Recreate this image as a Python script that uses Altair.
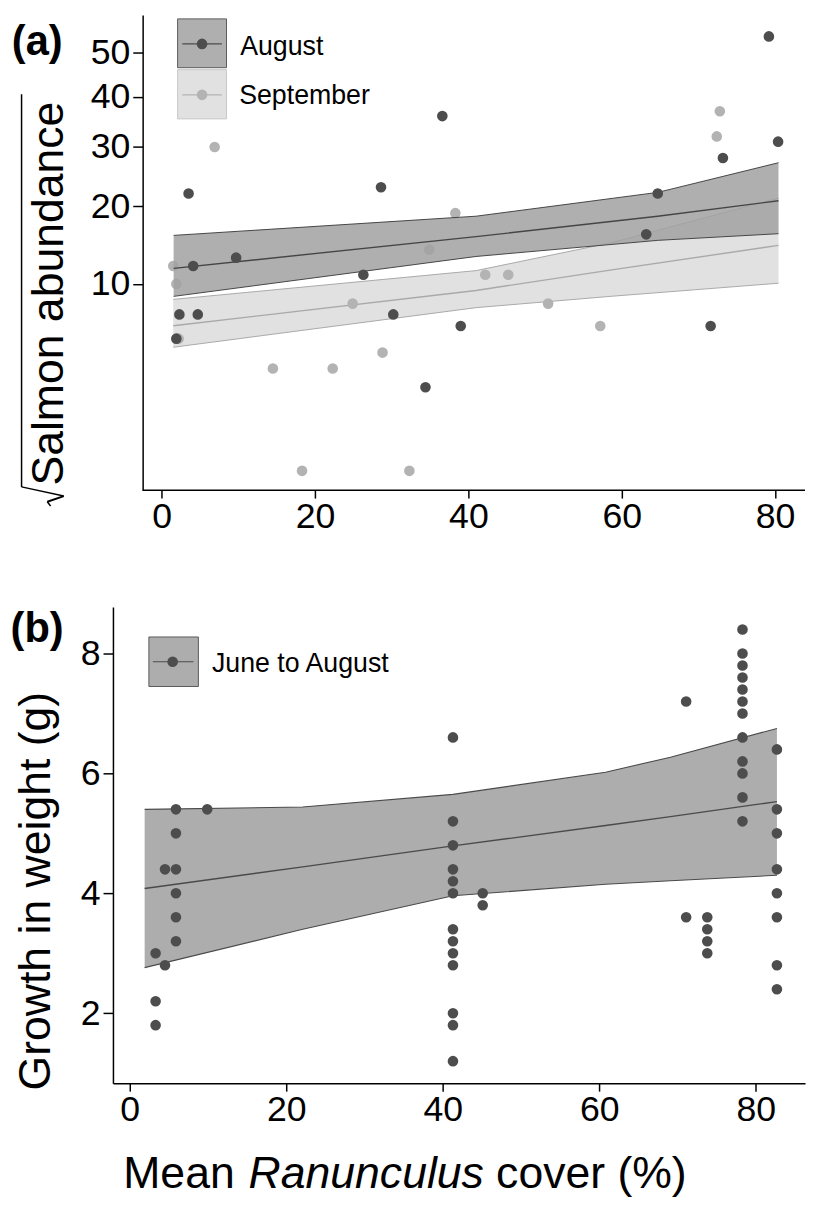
import altair as alt
import pandas as pd

# ---------------- Panel (a): salmon abundance (sqrt scale) ----------------
aug_x = [3.5, 4.1, 9.7, 28.6, 26.3, 36.6, 79.2, 80.4, 73.2, 64.7, 63.2, 2.3, 4.7, 1.9, 30.2, 39.0, 71.6, 34.4]
aug_y = [22, 12, 13, 23, 11, 36, 54, 31, 28, 22, 16, 7, 7, 5, 7, 6, 6, 2]
sep_x = [6.9, 1.5, 1.9, 24.9, 38.3, 72.8, 72.4, 34.9, 42.2, 45.2, 50.4, 2.2, 14.5, 22.3, 28.8, 18.3, 32.3, 57.2]
sep_y = [30, 12, 10, 8, 19, 37, 32, 14, 11, 11, 8, 5, 3, 3, 4, 0, 0, 6]

aug_fit_x = [1.55, 41.0, 64.7, 80.45]
aug_fit = [11.73, 15.69, 18.55, 20.87]
aug_lo = [8.71, 13.15, 15.2, 16.09]
aug_hi = [15.86, 18.55, 22.18, 27.16]

sep_fit_x = [1.5, 41.0, 58.7, 80.45]
sep_fit = [6.02, 9.31, 11.55, 14.55]
sep_lo = [4.37, 7.62, 8.72, 10.07]
sep_hi = [8.41, 11.47, 14.9, 21.29]

xa_ticks = [0, 20, 40, 60, 80]
ya_ticks = [10, 20, 30, 40, 50]

# ---------------- Panel (b): growth in weight ----------------
grow_x = ([3.3] * 3 + [4.5] * 2 + [5.9] * 6 + [9.9] + [41.3] * 13 + [45.1] * 2
          + [71.1] * 2 + [73.8] * 4 + [78.3] * 12 + [82.7] * 8)
grow_y = ([3.0, 2.2, 1.8] + [4.4, 2.8] + [5.4, 5.0, 4.4, 4.0, 3.6, 3.2] + [5.4]
          + [6.6, 5.2, 4.8, 4.4, 4.2, 4.0, 3.4, 3.2, 3.0, 2.8, 2.0, 1.8, 1.2]
          + [4.0, 3.8] + [7.2, 3.6] + [3.6, 3.4, 3.2, 3.0]
          + [8.4, 8.0, 7.8, 7.6, 7.4, 7.2, 7.0, 6.6, 6.2, 6.0, 5.6, 5.2]
          + [6.4, 5.4, 5.0, 4.4, 4.0, 3.6, 2.8, 2.4])

gb_x = [1.9, 22.1, 41.3, 60.8, 69.1, 82.7]
gb_fit = [4.08, 4.44, 4.79, 5.13, 5.28, 5.53]
gb_lo = [2.76, 3.40, 3.96, 4.15, 4.21, 4.30]
gb_hi = [5.40, 5.44, 5.65, 6.02, 6.27, 6.75]

xb_ticks = [0, 20, 40, 60, 80]
yb_ticks = [2, 4, 6, 8]

FONT = "Liberation Sans"
W = 699
HA = 480
HB = 481

DARK = "#4d4d4d"
LIGHT = "#b3b3b3"

aug_pts = pd.DataFrame({"x": aug_x, "y": aug_y})
sep_pts = pd.DataFrame({"x": sep_x, "y": sep_y})
aug_band = pd.DataFrame({"x": aug_fit_x, "fit": aug_fit, "lo": aug_lo, "hi": aug_hi})
sep_band = pd.DataFrame({"x": sep_fit_x, "fit": sep_fit, "lo": sep_lo, "hi": sep_hi})
g_pts = pd.DataFrame({"x": grow_x, "y": grow_y})
g_band = pd.DataFrame({"x": gb_x, "fit": gb_fit, "lo": gb_lo, "hi": gb_hi})
one = pd.DataFrame({"k": [0]})

xs_a = alt.Scale(domain=[-6.367, 83.91], nice=False, zero=False)
ys_a = alt.Scale(type="sqrt", domain=[-0.1067, 59.47], nice=False, zero=False)
xax_a = alt.Axis(values=xa_ticks, title=None, domain=False, tickSize=8, labelPadding=2)
yax_a = alt.Axis(values=ya_ticks, title=None, offset=-30, tickSize=10, labelPadding=3)

xs_b = alt.Scale(domain=[-2.151, 86.29], nice=False, zero=False)
ys_b = alt.Scale(domain=[0.832, 8.776], nice=False, zero=False)
xax_b = alt.Axis(values=xb_ticks, title=None, tickSize=8, labelPadding=2)
yax_b = alt.Axis(values=yb_ticks, title=None, tickSize=10, labelPadding=3)


def XA(f):
    return alt.X(f"{f}:Q", scale=xs_a, axis=xax_a)


def YA(f):
    return alt.Y(f"{f}:Q", scale=ys_a, axis=yax_a)


def XB(f):
    return alt.X(f"{f}:Q", scale=xs_b, axis=xax_b)


def YB(f):
    return alt.Y(f"{f}:Q", scale=ys_b, axis=yax_b)


def seg(x1, y1, x2, y2, color="black", w=1.5):
    return alt.Chart(one).mark_rule(color=color, strokeWidth=w).encode(
        x=alt.value(x1), y=alt.value(y1), x2=alt.value(x2), y2=alt.value(y2))


def label(t, x, y, size, align="left", **kw):
    return alt.Chart(one).mark_text(text=t, font=FONT, fontSize=size, align=align,
                                    baseline="alphabetic", color="black", **kw).encode(
        x=alt.value(x), y=alt.value(y))


def box(x1, y1, x2, y2, fill, stroke):
    return alt.Chart(one).mark_rect(fill=fill, stroke=stroke, strokeWidth=1).encode(
        x=alt.value(x1), x2=alt.value(x2), y=alt.value(y1), y2=alt.value(y2))


def dot(x, y, color):
    return alt.Chart(one).mark_circle(size=115, color=color, opacity=1).encode(
        x=alt.value(x), y=alt.value(y))


# ---- panel (a) layers ----
a_layers = [
    alt.Chart(sep_band).mark_area(color="#e1e1e1", opacity=1).encode(x=XA("x"), y=YA("lo"), y2="hi"),
    alt.Chart(sep_band).mark_line(color="#a9a9a9", strokeWidth=1).encode(x=XA("x"), y=YA("lo")),
    alt.Chart(sep_band).mark_line(color="#a9a9a9", strokeWidth=1).encode(x=XA("x"), y=YA("hi")),
    alt.Chart(sep_band).mark_line(color="#a9a9a9", strokeWidth=1.4).encode(x=XA("x"), y=YA("fit")),
    alt.Chart(sep_pts).mark_circle(size=115, color=LIGHT, opacity=1).encode(x=XA("x"), y=YA("y")),
    alt.Chart(aug_band).mark_area(color="#a1a1a1", opacity=0.85).encode(x=XA("x"), y=YA("lo"), y2="hi"),
    alt.Chart(aug_band).mark_line(color="#454545", strokeWidth=1).encode(x=XA("x"), y=YA("lo")),
    alt.Chart(aug_band).mark_line(color="#454545", strokeWidth=1).encode(x=XA("x"), y=YA("hi")),
    alt.Chart(aug_band).mark_line(color="#454545", strokeWidth=1.4).encode(x=XA("x"), y=YA("fit")),
    alt.Chart(aug_pts).mark_circle(size=115, color=DARK, opacity=1).encode(x=XA("x"), y=YA("y")),
    # x-axis line (starts at the y axis)
    seg(30, HA, W, HA),
    # legend
    box(65.3, 4, 114.7, 53.3, "#afafaf", "#5a5a5a"),
    box(65.3, 55.3, 114.7, 105, "#e1e1e1", "#c8c8c8"),
    seg(70, 29.3, 110, 29.3, DARK, 1.2),
    dot(90, 29.3, DARK),
    seg(70, 80.7, 110, 80.7, LIGHT, 1.2),
    dot(90, 80.7, LIGHT),
    label("August", 128.5, 40, 27),
    label("September", 127.5, 90, 27),
    # panel tag
    label("(a)", -102.1, 40.5, 42, fontWeight="bold"),
    # y title with radical sign
    label("Salmon abundance", -50, 281.5, 45, align="center", angle=270),
    seg(-92.3, 80, -92.3, 476.7, "black", 1.5),
    seg(-92.3, 476.7, -49.7, 486, "black", 1.5),
    seg(-49.7, 486, -66.3, 491.7, "black", 2),
    seg(-66.3, 491.7, -63, 496, "black", 1.5),
]
panel_a = alt.layer(*a_layers).properties(width=W, height=HA)

# ---- panel (b) layers ----
b_layers = [
    alt.Chart(g_band).mark_area(color="#adadad", opacity=1).encode(x=XB("x"), y=YB("lo"), y2="hi"),
    alt.Chart(g_band).mark_line(color="#4a4a4a", strokeWidth=1.1).encode(x=XB("x"), y=YB("lo")),
    alt.Chart(g_band).mark_line(color="#4a4a4a", strokeWidth=1.1).encode(x=XB("x"), y=YB("hi")),
    alt.Chart(g_band).mark_line(color="#4a4a4a", strokeWidth=1.4).encode(x=XB("x"), y=YB("fit")),
    alt.Chart(g_pts).mark_circle(size=115, color=DARK, opacity=1).encode(x=XB("x"), y=YB("y")),
    # legend
    box(36.3, 30.3, 86.3, 80.3, "#adadad", "#5a5a5a"),
    seg(40.3, 55.3, 81.3, 55.3, DARK, 1.2),
    dot(60.3, 55.3, DARK),
    label("June to August", 100, 65.3, 27),
    # panel tag
    label("(b)", -103.4, 35.5, 42, fontWeight="bold"),
    # y title
    label("Growth in weight (g)", -64, 287, 45, align="center", angle=270),
    # x title with italic genus name
    label("Mean", 10.4, 587, 45),
    label("Ranunculus", 137, 587, 45, fontStyle="italic"),
    label("cover (%)", 387, 587, 45),
]
panel_b = alt.layer(*b_layers).properties(width=W, height=HB)

chart = (
    alt.vconcat(panel_a, panel_b, spacing=118, bounds="flush")
    .properties(padding={"left": 2, "top": 1, "right": 0, "bottom": 0})
    .configure_view(stroke=None)
    .configure_axis(
        labelFont=FONT, labelFontSize=36, labelColor="black",
        tickColor="black", domainColor="black", domainWidth=1.5, tickWidth=1.5,
        grid=False, labelFlush=False, labelOverlap=False,
    )
)

chart.save("out.html", embed_options={"renderer": "svg", "actions": False})
